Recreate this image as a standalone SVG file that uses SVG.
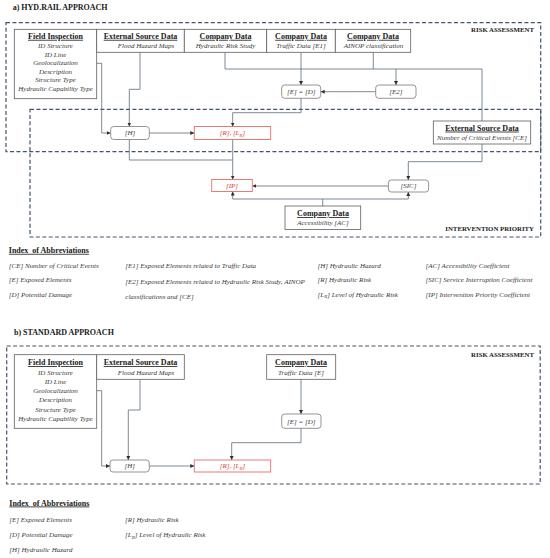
<svg xmlns="http://www.w3.org/2000/svg" width="550" height="558" viewBox="0 0 550 558">
<style>
text { font-family: "Liberation Serif", "Times New Roman", serif; }
.ttl { font-size: 8px; font-weight: bold; fill: #1a1a1a; }
.lbl { font-size: 6.8px; font-weight: bold; fill: #1a1a1a; text-anchor: end; }
.h { font-size: 8px; font-weight: bold; fill: #1a1a1a; text-decoration: underline; text-anchor: middle; }
.i { font-size: 7px; font-style: italic; fill: #3a3a3a; text-anchor: middle; }
.ab { font-size: 7px; font-style: italic; fill: #3a3a3a; }
.rt { font-size: 7px; font-style: italic; fill: #e03a3a; text-anchor: middle; }
.box { fill: #fff; stroke: #5f5f5f; stroke-width: 0.8; }
.node { fill: #fff; stroke: #7a7a7a; stroke-width: 0.8; }
.red { fill: #fff; stroke: #eb6b6b; stroke-width: 0.9; }
.dash { fill: none; stroke: #44546a; stroke-width: 1.2; stroke-dasharray: 4 2.4; }
.con { fill: none; stroke: #5b6b7b; stroke-width: 0.8; }
.arr { marker-end: url(#ah); }
</style>
<defs>
<marker id="ah" markerUnits="userSpaceOnUse" markerWidth="5" markerHeight="5" refX="4" refY="2" orient="auto">
<path d="M0,0 L4,2 L0,4 Z" fill="#2f2f2f"/>
</marker>
</defs>
<rect width="550" height="558" fill="#fff"/>

<!-- ===== Section a ===== -->
<text class="ttl" x="12.7" y="10">a) HYD.RAIL APPROACH</text>
<g id="a-risk-area">
<rect class="dash" x="6" y="22.7" width="534.7" height="129"/>
<text class="lbl" x="534" y="31.8">RISK ASSESSMENT</text>
</g>
<g id="a-priority-area">
<rect class="dash" x="30" y="109.3" width="510.7" height="127.7"/>
<text class="lbl" x="534" y="230.6">INTERVENTION PRIORITY</text>
</g>

<g id="a-connectors">
<path class="con arr" d="M96.7,63.3 H101.7 V133 H110.7"/>
<path class="con arr" d="M140,52.3 V89.3 H129.3 V126.5"/>
<path class="con" d="M225,52.3 V69 H482 V121"/>
<path class="con" d="M373.3,52.3 V69"/>
<path class="con arr" d="M396,69 V85"/>
<path class="con arr" d="M301,52.3 V85"/>
<path class="con arr" d="M375.7,91.7 H320.7"/>
<path class="con arr" d="M301,98.3 V112.7 H232.7 V126.5"/>
<path class="con arr" d="M149.3,133 H194.3"/>
<path class="con arr" d="M232.7,139.5 V179.5"/>
<path class="con" d="M129.3,139.5 V160 H232.7"/>
<path class="con arr" d="M482,144 V161.7 H408.3 V180"/>
<path class="con arr" d="M388.4,186 H252.3"/>
<path class="con" d="M322.7,206 V199"/>
<path class="con arr" d="M232.7,199 V191.5"/>
<path class="con arr" d="M232.7,199 H408.3 V192"/>
</g>

<g id="a-field-inspection">
<rect class="box" x="14.3" y="29.3" width="82.4" height="69.4"/>
<text class="h" x="55.5" y="38.8">Field Inspection</text>
<text class="i" x="55.5" y="48">ID Structure</text>
<text class="i" x="55.5" y="56.6">ID Line</text>
<text class="i" x="55.5" y="65.2">Geolocalization</text>
<text class="i" x="55.5" y="73.8">Description</text>
<text class="i" x="55.5" y="82.4">Structure Type</text>
<text class="i" x="55.5" y="91">Hydraulic Capability Type</text>
</g>
<g id="a-external-flood">
<rect class="box" x="96.7" y="29.3" width="87.6" height="23"/>
<text class="h" x="140.5" y="38.8">External Source Data</text>
<text class="i" x="146" y="48">Flood Hazard Maps</text>
</g>
<g id="a-company-hrs">
<rect class="box" x="184.3" y="29.3" width="82.4" height="23"/>
<text class="h" x="225.5" y="38.8">Company Data</text>
<text class="i" x="225.5" y="48">Hydraulic Risk Study</text>
</g>
<g id="a-company-traffic">
<rect class="box" x="266.7" y="29.3" width="68.6" height="23"/>
<text class="h" x="301" y="38.8">Company Data</text>
<text class="i" x="301" y="48">Traffic Data [E1]</text>
</g>
<g id="a-company-ainop">
<rect class="box" x="335.3" y="29.3" width="75.4" height="23"/>
<text class="h" x="373" y="38.8">Company Data</text>
<text class="i" x="373.5" y="48">AINOP classification</text>
</g>
<g id="a-ED">
<rect class="node" x="281.7" y="85" width="39" height="13.3" rx="3"/>
<text class="i" x="301.2" y="94">[E] = [D]</text>
</g>
<g id="a-E2">
<rect class="node" x="375.7" y="85" width="40.3" height="13.3" rx="3"/>
<text class="i" x="395.8" y="94">[E2]</text>
</g>
<g id="a-H">
<rect class="node" x="110.7" y="126.5" width="38.6" height="13" rx="3"/>
<text class="i" x="130" y="135.4">[H]</text>
</g>
<g id="a-R">
<rect class="red" x="194.3" y="126.5" width="76.4" height="13"/>
<text class="rt" x="232.5" y="135.4">[R], [L<tspan font-size="5" dy="1.5">R</tspan><tspan dy="-1.5">]</tspan></text>
</g>
<g id="a-external-ce">
<rect class="box" x="433.3" y="121" width="97.4" height="23"/>
<text class="h" x="482" y="130.6">External Source Data</text>
<text class="i" x="482" y="139.8">Number of Critical Events [CE]</text>
</g>
<g id="a-IP">
<rect class="red" x="211.7" y="179.5" width="40.6" height="12"/>
<text class="rt" x="232" y="188">[IP]</text>
</g>
<g id="a-SIC">
<rect class="node" x="388.4" y="180" width="40.2" height="12" rx="3"/>
<text class="i" x="408.5" y="188.4">[SIC]</text>
</g>
<g id="a-company-access">
<rect class="box" x="285" y="206" width="75.7" height="23.5"/>
<text class="h" x="323" y="216.2">Company Data</text>
<text class="i" x="323" y="225">Accessibility [AC]</text>
</g>

<g id="a-index">
<text class="ttl" x="8.8" y="252.8" text-decoration="underline" xml:space="preserve">Index  of Abbreviations</text>
<text class="ab" x="8.8" y="268">[CE] Number of Critical Events</text>
<text class="ab" x="8.8" y="282">[E] Exposed Elements</text>
<text class="ab" x="8.8" y="296.7">[D] Potential Damage</text>
<text class="ab" x="125.3" y="268">[E1] Exposed Elements related to Traffic Data</text>
<text class="ab" x="125.3" y="283.7">[E2] Exposed Elements related to Hydraulic Risk Study, AINOP</text>
<text class="ab" x="125.3" y="298.7">classifications and [CE]</text>
<text class="ab" x="317.5" y="268">[H] Hydraulic Hazard</text>
<text class="ab" x="317.5" y="282">[R] Hydraulic Risk</text>
<text class="ab" x="317.5" y="296.7">[L<tspan font-size="5" dy="1.5">R</tspan><tspan dy="-1.5">] Level of Hydraulic Risk</tspan></text>
<text class="ab" x="425.6" y="268">[AC] Accessibility Coefficient</text>
<text class="ab" x="425.6" y="282">[SIC] Service Interruption Coefficient</text>
<text class="ab" x="425.6" y="296.7">[IP] Intervention Priority Coefficient</text>
</g>

<!-- ===== Section b ===== -->
<text class="ttl" x="14" y="335">b) STANDARD APPROACH</text>
<g id="b-risk-area">
<rect class="dash" x="6.7" y="346" width="533.5" height="138"/>
<text class="lbl" x="534" y="357.4">RISK ASSESSMENT</text>
</g>

<g id="b-connectors">
<path class="con arr" d="M96.7,390.7 H101.7 V466 H110"/>
<path class="con arr" d="M140,379.3 V410 H128.3 V460"/>
<path class="con arr" d="M301,379.3 V414"/>
<path class="con arr" d="M301,428.3 V442.7 H231.7 V460"/>
<path class="con arr" d="M149.3,466 H194.3"/>
</g>

<g id="b-field-inspection">
<rect class="box" x="14.3" y="354.7" width="82.4" height="73.6"/>
<text class="h" x="55.5" y="365.1">Field Inspection</text>
<text class="i" x="55.5" y="374.7">ID Structure</text>
<text class="i" x="55.5" y="383.9">ID Line</text>
<text class="i" x="55.5" y="393.1">Geolocalization</text>
<text class="i" x="55.5" y="402.3">Description</text>
<text class="i" x="55.5" y="411.5">Structure Type</text>
<text class="i" x="55.5" y="420.7">Hydraulic Capability Type</text>
</g>
<g id="b-external-flood">
<rect class="box" x="96.7" y="354.7" width="87.6" height="24.6"/>
<text class="h" x="140.5" y="365.1">External Source Data</text>
<text class="i" x="146" y="374.7">Flood Hazard Maps</text>
</g>
<g id="b-company-traffic">
<rect class="box" x="266.7" y="354.7" width="69" height="24.6"/>
<text class="h" x="301" y="365.1">Company Data</text>
<text class="i" x="301" y="374.7">Traffic Data [E]</text>
</g>
<g id="b-ED">
<rect class="node" x="281.7" y="414" width="39.3" height="14.3" rx="3"/>
<text class="i" x="301.3" y="423.5">[E] = [D]</text>
</g>
<g id="b-H">
<rect class="node" x="110" y="460" width="39.3" height="12" rx="3"/>
<text class="i" x="129.7" y="468.4">[H]</text>
</g>
<g id="b-R">
<rect class="red" x="194.3" y="460" width="76.4" height="12"/>
<text class="rt" x="232.5" y="468.4">[R], [L<tspan font-size="5" dy="1.5">R</tspan><tspan dy="-1.5">]</tspan></text>
</g>

<g id="b-index">
<text class="ttl" x="9.3" y="505.5" text-decoration="underline" xml:space="preserve">Index  of Abbreviations</text>
<text class="ab" x="9.3" y="522.4">[E] Exposed Elements</text>
<text class="ab" x="9.3" y="537.1">[D] Potential Damage</text>
<text class="ab" x="9.3" y="551.7">[H] Hydraulic Hazard</text>
<text class="ab" x="125" y="522.4">[R] Hydraulic Risk</text>
<text class="ab" x="125" y="537.1">[L<tspan font-size="5" dy="1.5">R</tspan><tspan dy="-1.5">] Level of Hydraulic Risk</tspan></text>
</g>
</svg>
